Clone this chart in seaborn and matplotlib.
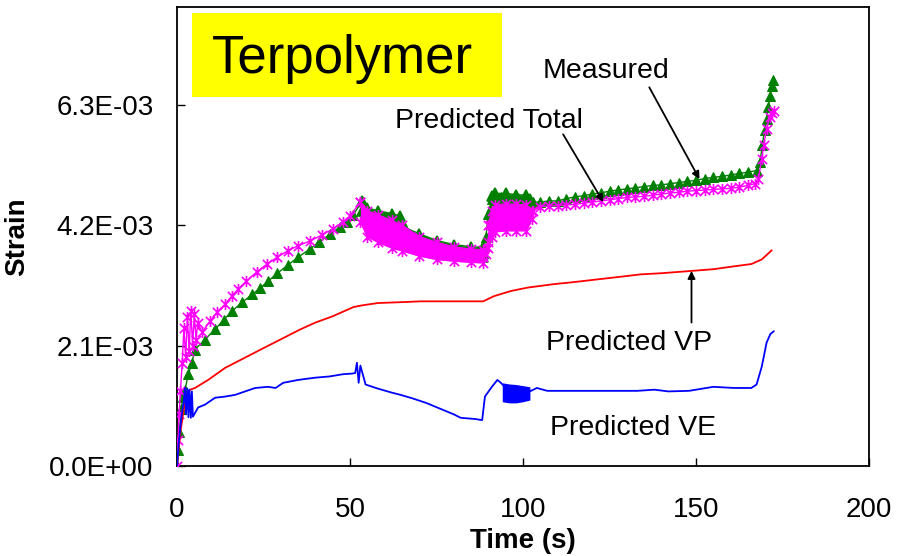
import matplotlib
matplotlib.use("Agg")
import matplotlib.pyplot as plt
import numpy as np
import pandas as pd
import seaborn as sns
from matplotlib.patches import Rectangle
from matplotlib.path import Path
from matplotlib.ticker import FuncFormatter

# ---- data (strain values in units of 1e-3) ----
meas_t = [0, 0.3, 0.7, 1.2, 1.8, 2.3, 3.3, 4.3, 5.2, 8, 11, 13.5, 15.9, 18.8, 21.7, 24, 26.3,
          29, 32, 35, 38.4, 41, 44.2, 47, 49, 51, 53.5,
          55, 58, 61, 64, 66, 69, 72, 75, 78, 81, 84, 87, 88.5,
          89.3, 90, 91, 92, 93.5, 96, 98.5, 101, 103, 105, 107.5, 110, 112.5, 115, 117.5,
          120, 122.5, 125, 127.5, 130, 132.5, 135, 137.5, 140, 142.5, 145, 147.5, 150,
          152.5, 155, 157.5, 160, 162.5, 165, 167.5, 168.5, 169.2, 169.8, 170.4, 170.9,
          171.4, 171.9, 172.3]
meas_e = [0, 0.28, 0.6, 1.0, 1.2, 1.33, 1.6, 1.8, 2.03, 2.2, 2.38, 2.55, 2.7, 2.85, 2.99, 3.1, 3.22,
          3.36, 3.5, 3.64, 3.78, 3.9, 4.04, 4.16, 4.25, 4.38, 4.62,
          4.45, 4.38, 4.32, 4.25, 4.08, 3.98, 3.9, 3.84, 3.8, 3.77, 3.75, 3.74, 3.72,
          4.0, 4.4, 4.65, 4.7, 4.68, 4.66, 4.67, 4.66, 4.6, 4.6, 4.62, 4.62, 4.66, 4.69, 4.71,
          4.74, 4.76, 4.79, 4.81, 4.83, 4.85, 4.87, 4.89, 4.9, 4.92, 4.94, 4.96, 4.98,
          5.01, 5.03, 5.05, 5.07, 5.1, 5.12, 5.15, 5.3, 5.6, 5.85, 6.05, 6.25,
          6.45, 6.62, 6.72]

meas_band_t = [53.5, 55, 58, 62, 64.5, 66, 70, 75, 80, 85, 88.5]
meas_band_hi = [4.62, 4.5, 4.45, 4.4, 4.36, 4.15, 4.05, 3.93, 3.86, 3.82, 3.81]
meas_band_lo = [4.45, 4.32, 4.22, 4.1, 4.0, 3.9, 3.8, 3.72, 3.68, 3.66, 3.64]
meas_band2_t = [91, 92, 95, 98, 101, 102]
meas_band2_hi = [4.7, 4.75, 4.75, 4.73, 4.72, 4.65]
meas_band2_lo = [4.5, 4.55, 4.57, 4.57, 4.57, 4.58]

tot_t = [0, 0.3, 0.6, 1.0, 1.5, 2.0, 2.5, 3.0, 3.5, 4.0, 4.5, 5.0, 5.5, 6.0, 7.2, 9.5, 11.5,
         13.9, 15.8, 17.6, 20, 23, 26, 29, 32, 35, 38.4, 42, 45, 48, 50, 53,
         55, 58, 61, 64, 67, 70, 73, 76, 79, 82, 85, 88.5,
         89.2, 89.8, 90.5, 91.5, 92.5, 95, 98, 101, 103, 105, 107.5, 110, 112.5, 115,
         117.5, 120, 122.5, 125, 127.5, 130, 132.5, 135, 137.5, 140, 142.5, 145, 147.5,
         150, 152.5, 155, 157.5, 160, 162.5, 165, 167, 168, 169, 169.6, 170.4, 171.3,
         172, 172.5]
tot_e = [0, 0.45, 0.9, 1.3, 1.8, 2.4, 1.9, 2.6, 2.0, 2.7, 2.1, 2.65, 2.2, 2.5, 2.33, 2.52, 2.68,
         2.82, 2.96, 3.08, 3.22, 3.38, 3.52, 3.64, 3.75, 3.84, 3.92, 4.03, 4.13, 4.26, 4.36, 4.6,
         4.25, 4.15, 4.05, 4.0, 3.92, 3.83, 3.75, 3.72, 3.68, 3.66, 3.65, 3.64,
         3.7, 3.9, 4.2, 4.35, 4.4, 4.35, 4.33, 4.3, 4.45, 4.52, 4.53, 4.54, 4.55, 4.56,
         4.58, 4.6, 4.62, 4.64, 4.66, 4.68, 4.69, 4.7, 4.72, 4.74, 4.76, 4.77, 4.79,
         4.8, 4.81, 4.82, 4.83, 4.84, 4.86, 4.89, 4.92, 5.0, 5.35, 5.6, 5.88, 6.09,
         6.15, 6.18]

tot_band_t = [53, 55, 58, 62, 65, 70, 75, 80, 85, 88.5]
tot_band_hi = [4.6, 4.45, 4.38, 4.28, 4.2, 4.0, 3.9, 3.82, 3.78, 3.77]
tot_band_lo = [4.25, 4.0, 3.9, 3.8, 3.75, 3.66, 3.6, 3.57, 3.55, 3.54]
tot_band2_t = [90, 91, 92, 95, 98, 101, 102.5]
tot_band2_hi = [4.2, 4.45, 4.55, 4.57, 4.56, 4.55, 4.45]
tot_band2_lo = [3.8, 4.0, 4.08, 4.1, 4.1, 4.1, 4.3]

vp_t = [0, 1, 2, 3, 3.8, 5.2, 9, 13.9, 19.7, 25.5, 30.4, 35.6, 40, 45, 48, 51, 53.5, 58,
        66.7, 70.4, 80, 88.5, 91.6, 96.5, 101.4, 108.9, 113.9, 122.6, 128.4, 134, 140,
        148.7, 155, 161, 166, 169, 171.9]
vp_e = [0, 0.6, 1.0, 1.25, 1.33, 1.36, 1.5, 1.71, 1.89, 2.07, 2.22, 2.38, 2.5, 2.61, 2.69,
        2.77, 2.8, 2.84, 2.86, 2.87, 2.87, 2.87, 2.96, 3.05, 3.11, 3.17, 3.2, 3.26, 3.3,
        3.34, 3.36, 3.4, 3.43, 3.48, 3.52, 3.6, 3.76]

ve_t = [0, 0.5, 1, 1.5, 2, 2.3, 2.6, 3, 3.3, 3.6, 4, 4.3, 4.6, 6.1, 8.1, 11, 13.9, 16.8, 19.7,
        22.6, 26.3, 28.5, 30.7, 35, 40, 44, 48, 50.5, 51.5, 52, 52.5, 53, 54.5, 58, 62,
        64.6, 68, 72, 76, 80, 82, 86, 88.2, 89, 91, 92.6, 93.6, 96, 98, 100, 102, 104, 107,
        115, 125, 133, 138, 142, 148, 155, 161, 166, 167.5, 169, 170.4, 171.5, 172.5]
ve_e = [0, 0.4, 0.7, 0.95, 1.15, 1.36, 0.9, 1.35, 0.85, 1.33, 0.84, 1.3, 0.86, 1.02, 1.07,
        1.19, 1.21, 1.24, 1.3, 1.36, 1.38, 1.36, 1.45, 1.5, 1.54, 1.56, 1.6, 1.61, 1.62, 1.8,
        1.45, 1.75, 1.42, 1.35, 1.28, 1.24, 1.18, 1.1, 1.0, 0.9, 0.84, 0.82, 0.8, 1.21, 1.38,
        1.5, 1.45, 1.3, 1.28, 1.3, 1.3, 1.36, 1.31, 1.31, 1.31, 1.31, 1.33, 1.3, 1.31, 1.38,
        1.36, 1.36, 1.42, 1.73, 2.15, 2.3, 2.35]
ve_band_t = [94, 96, 98, 100, 102]
ve_band_hi = [1.45, 1.43, 1.42, 1.4, 1.38]
ve_band_lo = [1.12, 1.1, 1.1, 1.12, 1.15]

x_ticks = [0, 50, 100, 150, 200]
y_ticks = [0.0, 2.1e-3, 4.2e-3, 6.3e-3]

SCALE = 1e-3
GREEN, MAGENTA, RED, BLUE = "#008000", "#FF00FF", "#FF0000", "#0000FF"

# star marker: an "x" crossed by a vertical stroke
ASTERISK = Path([(-1, -1), (1, 1), (-1, 1), (1, -1), (0, -1.2), (0, 1.2)],
                [Path.MOVETO, Path.LINETO, Path.MOVETO, Path.LINETO, Path.MOVETO, Path.LINETO])

sns.set_theme(style="white")
plt.rcParams["font.family"] = ["Liberation Sans", "DejaVu Sans"]

fig = plt.figure(figsize=(9.11, 5.56), dpi=100)
ax = fig.add_axes([177 / 911, 90 / 556, 692 / 911, 459 / 556])


def frame(t, e):
    return pd.DataFrame({"t": t, "strain": np.asarray(e) * SCALE})


def band(t, lo, hi, color, marker, ms, z):
    ax.fill_between(t, np.asarray(lo) * SCALE, np.asarray(hi) * SCALE,
                    color=color, linewidth=0, zorder=z)
    for edge in (lo, hi):
        sns.lineplot(data=frame(t, edge), x="t", y="strain", ax=ax, color=color,
                     marker=marker, markersize=ms, markeredgecolor=color,
                     markeredgewidth=1.2, linewidth=1.0, sort=False,
                     estimator=None, zorder=z)


# measured strain
band(meas_band_t, meas_band_lo, meas_band_hi, GREEN, "^", 7, 2)
band(meas_band2_t, meas_band2_lo, meas_band2_hi, GREEN, "^", 7, 2)
sns.lineplot(data=frame(meas_t, meas_e), x="t", y="strain", ax=ax, color=GREEN,
             marker="^", markersize=7, markeredgecolor=GREEN, linewidth=1.0,
             sort=False, estimator=None, zorder=2)

# predicted total strain
band(tot_band_t, tot_band_lo, tot_band_hi, MAGENTA, ASTERISK, 8, 3)
band(tot_band2_t, tot_band2_lo, tot_band2_hi, MAGENTA, ASTERISK, 8, 3)
sns.lineplot(data=frame(tot_t, tot_e), x="t", y="strain", ax=ax, color=MAGENTA,
             marker=ASTERISK, markersize=8, markeredgecolor=MAGENTA,
             markeredgewidth=1.2, linewidth=1.0, sort=False, estimator=None, zorder=3)

# predicted viscoplastic and viscoelastic parts
sns.lineplot(data=frame(vp_t, vp_e), x="t", y="strain", ax=ax, color=RED,
             linewidth=1.3, sort=False, estimator=None, zorder=4)
ax.fill_between(ve_band_t, np.asarray(ve_band_lo) * SCALE, np.asarray(ve_band_hi) * SCALE,
                color=BLUE, linewidth=0, zorder=5)
sns.lineplot(data=frame(ve_t, ve_e), x="t", y="strain", ax=ax, color=BLUE,
             linewidth=1.3, sort=False, estimator=None, zorder=5)

# axes styling
ax.set_xlim(0, 200)
ax.set_ylim(0, 8.0e-3)
ax.set_xticks(x_ticks)
ax.set_yticks(y_ticks)
ax.yaxis.set_major_formatter(FuncFormatter(lambda v, p: f"{v:.1E}"))
ax.tick_params(axis="both", direction="in", length=6, width=1.0, colors="black",
               labelsize=20, left=True, bottom=True, top=False, right=False)
ax.tick_params(axis="y", pad=17)
ax.tick_params(axis="x", pad=22)
for s in ax.spines.values():
    s.set_visible(True)
    s.set_color("black")
    s.set_linewidth(1.3)
ax.grid(False)

ax.set_xlabel("Time (s)", fontsize=20, fontweight="bold", color="black")
ax.set_ylabel("Strain", fontsize=20, fontweight="bold", color="black")
ax.xaxis.set_label_coords(0.5, -0.135)
ax.yaxis.set_label_coords(-0.212, 0.5)

# title box
ax.add_patch(Rectangle((0.0217, 0.804), 0.448, 0.183, transform=ax.transAxes,
                       facecolor="#FFFF00", edgecolor="none", zorder=6))
ax.text(0.0506, 0.856, "Terpolymer", transform=ax.transAxes, fontsize=38,
        ha="left", va="baseline", color="black", zorder=7)

# series labels with arrows
label_kw = dict(fontsize=20.5, ha="center", va="center", color="black", zorder=8)
arrow_kw = dict(arrowstyle="-|>", color="black", lw=1.3, mutation_scale=11,
                shrinkA=0, shrinkB=0)
ax.text(124, 6.88e-3, "Measured", **label_kw)
ax.annotate("", xy=(151, 5.0e-3), xytext=(136.5, 6.6e-3), arrowprops=arrow_kw, zorder=8)
ax.text(90.1, 6.02e-3, "Predicted Total", **label_kw)
ax.annotate("", xy=(123.2, 4.6e-3), xytext=(111.6, 5.78e-3), arrowprops=arrow_kw, zorder=8)
ax.text(130.7, 2.15e-3, "Predicted VP", **label_kw)
ax.annotate("", xy=(148.7, 3.4e-3), xytext=(148.7, 2.5e-3), arrowprops=arrow_kw, zorder=8)
ax.text(131.9, 0.665e-3, "Predicted VE", **label_kw)

fig.savefig("out.png", dpi=100)
